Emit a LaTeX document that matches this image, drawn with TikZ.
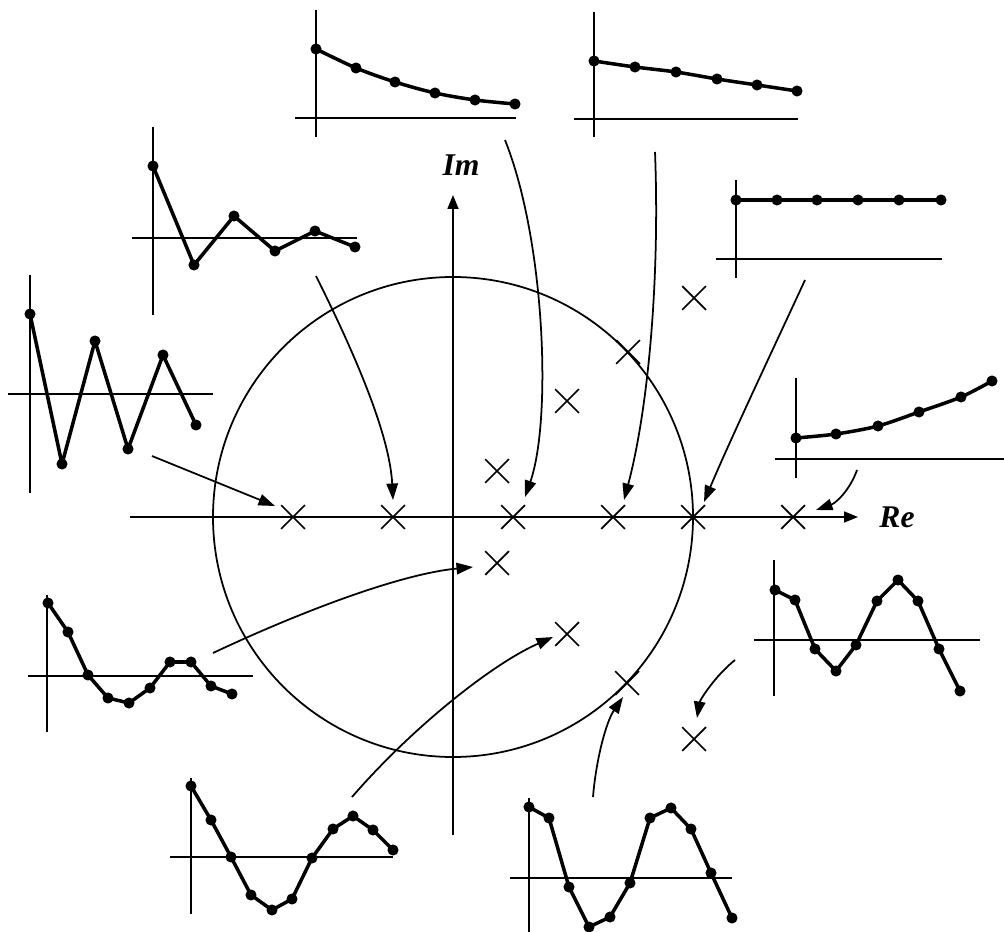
\documentclass[tikz,border=0pt]{standalone}
\usepackage{fontspec}
\setmainfont{Liberation Serif}
\usetikzlibrary{arrows.meta,shapes.misc}

\begin{document}
\begin{tikzpicture}[
  x=0.02cm, y=-0.02cm,
  axis/.style   = {line width=1pt},
  seq/.style    = {line width=2pt, line join=round, mark=*, mark size=2.1pt},
  pole/.style   = {draw, cross out, minimum size=0.44cm, inner sep=0pt,
                   line width=1pt},
  arrow/.style  = {-{Triangle[length=3.3mm,width=2.3mm]}, line width=1pt},
  axlabel/.style = {font=\fontsize{18}{20}\selectfont\bfseries\itshape}
]
  \useasboundingbox (0,0) rectangle (1004,932);

  % z-plane: unit circle and axes
  \draw[axis] (453,517) circle [radius=240];
  \draw[axis, -{Triangle[length=2.8mm,width=2.2mm]}] (453,835) -- (453,195);
  \draw[axis, -{Triangle[length=2.8mm,width=2.2mm]}] (130,517) -- (858,517);
  \node[axlabel] (im) at (461,165) {Im};
  \node[axlabel] (re) at (897,517) {Re};

  % poles
  \foreach \n/\px/\py in {r1/293/517, r2/393/517, r3/513/517, r4/613/517,
                          r5/693/517, r6/793/517,
                          a1/497/471, b1/497/563, a2/567/401, b2/567/634,
                          a3/628/352, b3/627/683, a4/694/298, b4/694/739}
    \node[pole] (\n) at (\px,\py) {};

  % impulse responses
  \draw[axis] (316,10) -- (316,137);  \draw[axis] (295,118) -- (516,118);
  \draw[seq] plot[smooth] coordinates {(316,49) (356,68) (395,82) (435,93) (475,100) (515,104)};

  \draw[axis] (594,12) -- (594,137);  \draw[axis] (574,119) -- (798,119);
  \draw[seq] plot[smooth] coordinates {(594,61) (635,67) (676,72) (717,79) (757,85) (797,91)};

  \draw[axis] (153,127) -- (153,315);  \draw[axis] (132,238) -- (357,238);
  \draw[seq] plot coordinates {(153,166) (194,265) (234,216) (275,251) (315,231) (355,247)};

  \draw[axis] (30,275) -- (30,493);  \draw[axis] (8,394) -- (213,394);
  \draw[seq] plot coordinates {(30,314) (62,464) (95,341) (128,449) (163,355) (196,425)};

  \draw[axis] (736,180) -- (736,278);  \draw[axis] (716,259) -- (942,259);
  \draw[seq] plot coordinates {(736,200) (777,200) (817,200) (858,200) (899,200) (941,200)};

  \draw[axis] (796,378) -- (796,478);  \draw[axis] (775,459) -- (1004,459);
  \draw[seq] plot[smooth] coordinates {(796,438) (836,434) (878,426) (919,412) (961,397) (992,381)};

  \draw[axis] (47,595) -- (47,732);  \draw[axis] (28,676) -- (253,676);
  \draw[seq] plot coordinates {(48,603) (68,632) (88,675) (108,698) (129,703) (150,688)
                               (170,662) (191,662) (211,686) (232,694)};

  \draw[axis] (774,560) -- (774,696);  \draw[axis] (754,640) -- (980,640);
  \draw[seq] plot coordinates {(775,590) (795,600) (815,649) (836,671) (856,645)
                               (877,601) (898,580) (918,601) (939,649) (960,691)};

  \draw[axis] (191,778) -- (191,914);  \draw[axis] (170,857) -- (393,857);
  \draw[seq] plot coordinates {(191,786) (211,820) (231,857) (251,895) (272,910) (292,899)
                               (312,858) (333,829) (353,816) (373,830) (393,850)};

  \draw[axis] (529,798) -- (529,932);  \draw[axis] (510,878) -- (732,878);
  \draw[seq] plot coordinates {(529,807) (549,818) (569,887) (589,927) (610,917) (630,883)
                               (650,818) (671,808) (691,829) (711,873) (732,918)};

  % arrow ends
  \coordinate (sAlt)  at (152,456);  \coordinate (tAlt)  at (275,506);
  \coordinate (sDamp) at (316,276);  \coordinate (tDamp) at (393,500);
  \coordinate (sExp)  at (505,140);  \coordinate (tExp)  at (525,497);
  \coordinate (sSlow) at (655,152);  \coordinate (tSlow) at (624,500);
  \coordinate (sCon)  at (805,280);  \coordinate (tCon)  at (704,502);
  \coordinate (sGrow) at (857,470);  \coordinate (tGrow) at (816,510);
  \coordinate (sOscA) at (213,653);  \coordinate (tOscA) at (473,567);
  \coordinate (sOscB) at (352,797);  \coordinate (tOscB) at (553,637);
  \coordinate (sOscC) at (593,797);  \coordinate (tOscC) at (623,697);
  \coordinate (sOscD) at (735,660);  \coordinate (tOscD) at (697,718);

  % responses to poles
  \draw[arrow] (sAlt) -- (tAlt);
  \draw[arrow] (sDamp) .. controls (362,368) and (390,440) .. (tDamp);
  \draw[arrow] (sExp) .. controls (545,240) and (552,420) .. (tExp);
  \draw[arrow] (sSlow) .. controls (660,280) and (648,410) .. (tSlow);
  \draw[arrow] (sCon) .. controls (782,330) and (730,440) .. (tCon);
  \draw[arrow] (sGrow) .. controls (850,490) and (836,503) .. (tGrow);
  \draw[arrow] (sOscA) .. controls (300,612) and (400,574) .. (tOscA);
  \draw[arrow] (sOscB) .. controls (410,730) and (490,665) .. (tOscB);
  \draw[arrow] (sOscC) .. controls (596,760) and (606,722) .. (tOscC);
  \draw[arrow] (sOscD) .. controls (715,676) and (700,700) .. (tOscD);
\end{tikzpicture}
\end{document}
